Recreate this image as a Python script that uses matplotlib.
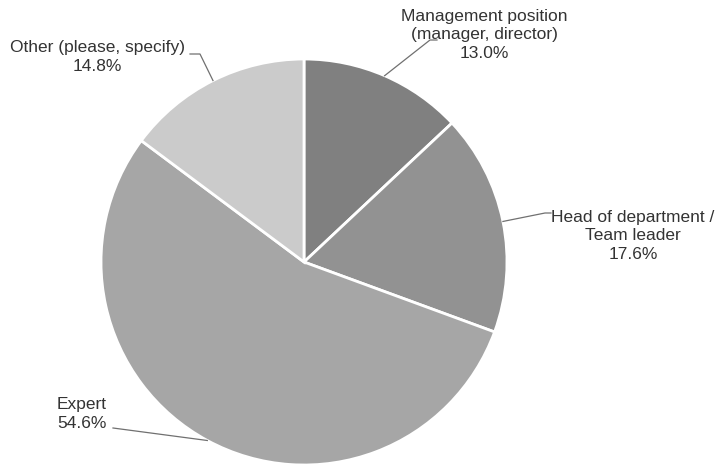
import numpy as np
import matplotlib.pyplot as plt

plt.rcParams['font.family'] = ['Liberation Sans', 'DejaVu Sans']

# data
labels = ["Management position\n(manager, director)", "Head of department /\nTeam leader",
          "Expert", "Other (please, specify)"]
values = [13.0, 17.6, 54.6, 14.8]
colors = ["#808080", "#929292", "#a6a6a6", "#cbcbcb"]

# pixel-space layout (y measured from top)
W, H = 718, 467
cx, cy, r = 304, 262, 203
# elbow point of leader line, end of stub, label anchor, alignment
label_pos = [
    ((430, 40), (437, 40), (484, 35), "center"),
    ((545, 213), (551, 213), (633, 236), "center"),
    ((113, 428), (113, 428), (57, 414), "left"),
    ((200, 54), (190, 54), (97, 57), "center"),
]

fig = plt.figure(figsize=(W / 100, H / 100), dpi=100)
ax = fig.add_axes([0, 0, 1, 1])

wedges, _ = ax.pie(values, colors=colors, startangle=90, counterclock=False,
                   center=(cx, H - cy), radius=r, frame=True,
                   wedgeprops=dict(edgecolor="white", linewidth=2))
ax.set_xlim(0, W)
ax.set_ylim(0, H)
ax.set_aspect("equal")
ax.axis("off")

for w, lab, val, (elbow, stub, pos, ha) in zip(wedges, labels, values, label_pos):
    ang = np.deg2rad((w.theta1 + w.theta2) / 2)
    ex = cx + r * np.cos(ang)
    ey = (H - cy) + r * np.sin(ang)
    ax.plot([ex, elbow[0], stub[0]], [ey, H - elbow[1], H - stub[1]],
            color="#707070", lw=0.9, zorder=5)
    ax.text(pos[0], H - pos[1], f"{lab}\n{val:.1f}%", ha=ha, va="center",
            multialignment=ha, fontsize=12.5, color="#333333", linespacing=1.3)

fig.savefig("out.png", dpi=100)
